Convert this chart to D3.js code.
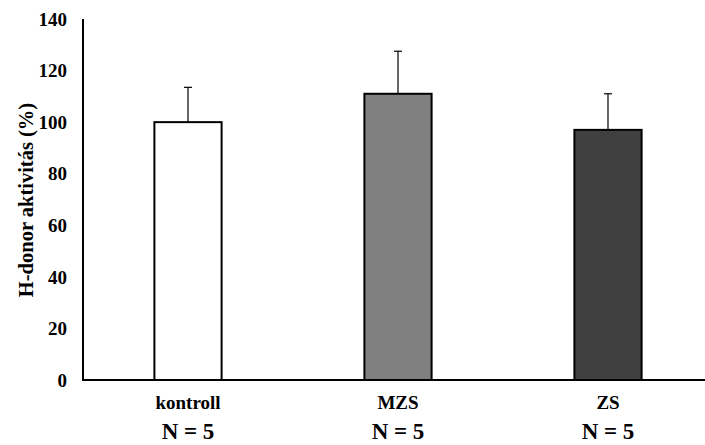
<!DOCTYPE html>
<html><head><meta charset="utf-8">
<script src="https://cdn.jsdelivr.net/npm/d3@7"></script>
<style>
body{margin:0;background:#fff;}
text{font-family:"Liberation Serif","Times New Roman",serif;font-weight:bold;fill:#000;}
</style></head>
<body>
<svg id="c" width="705" height="445"></svg>
<script>
const categories = ["kontroll", "MZS", "ZS"];
const values = [100, 111, 97];
const errors = [13.5, 16.5, 14];
const nLabels = ["N = 5", "N = 5", "N = 5"];
const yTicks = [0, 20, 40, 60, 80, 100, 120, 140];
const fills = ["#ffffff", "#808080", "#404040"];
const yTitle = "H-donor aktivitás (%)";

const svg = d3.select("#c");
const x = d3.scaleBand().domain(categories).range([83, 713]).padding(0);
const y = d3.scaleLinear().domain([0, 140]).range([380, 19]);
const bw = x.bandwidth() * 0.32;

// axes lines
svg.append("line").attr("x1", 83).attr("x2", 83).attr("y1", y(140)).attr("y2", y(0))
  .attr("stroke", "#000").attr("stroke-width", 2);
svg.append("line").attr("x1", 82).attr("x2", 705).attr("y1", y(0)).attr("y2", y(0))
  .attr("stroke", "#000").attr("stroke-width", 2);

// tick labels
svg.selectAll(".tk").data(yTicks).enter().append("text")
  .attr("x", 67).attr("y", d => y(d))
  .attr("text-anchor", "end").attr("dy", "0.35em")
  .style("font-size", "19px").text(d => d);

// error bars
const g = svg.append("g");
categories.forEach((c, i) => {
  const cx = x(c) + x.bandwidth() / 2;
  g.append("line").attr("x1", cx).attr("x2", cx)
    .attr("y1", y(values[i])).attr("y2", y(values[i] + errors[i]))
    .attr("stroke", "#000").attr("stroke-width", 1.2);
  g.append("line").attr("x1", cx - 4).attr("x2", cx + 4)
    .attr("y1", y(values[i] + errors[i])).attr("y2", y(values[i] + errors[i]))
    .attr("stroke", "#000").attr("stroke-width", 1.2);
});

// bars
svg.selectAll(".bar").data(categories).enter().append("rect")
  .attr("x", d => x(d) + (x.bandwidth() - bw) / 2)
  .attr("y", (d, i) => y(values[i]))
  .attr("width", bw)
  .attr("height", (d, i) => y(0) - y(values[i]))
  .attr("fill", (d, i) => fills[i])
  .attr("stroke", "#000").attr("stroke-width", 2);

// category labels
svg.selectAll(".cl").data(categories).enter().append("text")
  .attr("x", d => x(d) + x.bandwidth() / 2).attr("y", 409)
  .attr("text-anchor", "middle").style("font-size", "19px").text(d => d);
svg.selectAll(".nl").data(categories).enter().append("text")
  .attr("x", d => x(d) + x.bandwidth() / 2).attr("y", 439)
  .attr("text-anchor", "middle").style("font-size", "23px").text((d, i) => nLabels[i]);

// y title
svg.append("text")
  .attr("transform", `translate(33,200) rotate(-90)`)
  .attr("text-anchor", "middle").style("font-size", "20.5px").text(yTitle);
</script>
</body></html>
